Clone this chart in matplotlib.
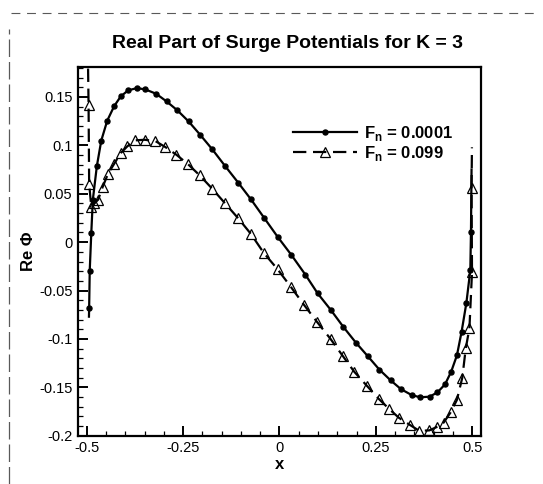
import numpy as np
import matplotlib.pyplot as plt
from matplotlib.lines import Line2D
from matplotlib.ticker import MultipleLocator, FixedLocator

plt.rcParams['font.family'] = ['Liberation Sans', 'DejaVu Sans']
plt.rcParams['mathtext.fontset'] = 'custom'
plt.rcParams['mathtext.rm'] = 'Liberation Sans:bold'
plt.rcParams['mathtext.bf'] = 'Liberation Sans:bold'

# Re(phi) along the body, Fn = 0.0001 (first/last points are line ends only)
x_slow = [-0.4945, -0.494, -0.4925, -0.4885, -0.4845, -0.474, -0.4625, -0.447,
          -0.429, -0.412, -0.393, -0.370, -0.348, -0.320, -0.293, -0.265,
          -0.236, -0.206, -0.175, -0.141, -0.107, -0.074, -0.040, -0.005,
          0.031, 0.067, 0.099, 0.1335, 0.166, 0.198, 0.2295, 0.259, 0.2885,
          0.315, 0.343, 0.365, 0.3896, 0.410, 0.4296, 0.4455, 0.4605, 0.4725,
          0.485, 0.4953, 0.497, 0.4985]
re_slow = [-0.077, -0.068, -0.0295, 0.009, 0.0435, 0.0786, 0.105, 0.1256,
           0.1406, 0.1506, 0.1568, 0.1592, 0.1578, 0.1533, 0.1454, 0.1362,
           0.1248, 0.111, 0.0962, 0.0786, 0.0614, 0.0442, 0.0252, 0.0056,
           -0.0133, -0.0335, -0.0529, -0.0702, -0.0877, -0.1037, -0.118,
           -0.1316, -0.1428, -0.1518, -0.158, -0.1603, -0.1597, -0.1552,
           -0.147, -0.134, -0.117, -0.093, -0.063, -0.029, 0.0107, 0.075]

# Re(phi) along the body, Fn = 0.099 (end points are line ends only)
x_fast = [-0.4975, -0.4955, -0.494, -0.4885, -0.4805, -0.4705, -0.459, -0.445,
          -0.429, -0.412, -0.395, -0.374, -0.350, -0.322, -0.296, -0.2675,
          -0.237, -0.207, -0.175, -0.141, -0.107, -0.074, -0.041, -0.005,
          0.030, 0.064, 0.097, 0.1325, 0.165, 0.194, 0.227, 0.257, 0.285,
          0.310, 0.339, 0.363, 0.389, 0.410, 0.426, 0.444, 0.4605, 0.4745,
          0.4835, 0.493, 0.4997, 0.4985, 0.4995]
re_fast = [0.20, 0.1413, 0.0603, 0.0366, 0.040, 0.044, 0.057, 0.0707, 0.081,
           0.092, 0.099, 0.1052, 0.1058, 0.1044, 0.0982, 0.0903, 0.0804, 0.069,
           0.0554, 0.040, 0.0246, 0.0084, -0.011, -0.028, -0.0465, -0.065,
           -0.0822, -0.100, -0.118, -0.1339, -0.1485, -0.1617, -0.1725,
           -0.1815, -0.189, -0.195, -0.1945, -0.1907, -0.1865, -0.176, -0.163,
           -0.140, -0.1097, -0.089, -0.031, 0.056, 0.098]

labels = [r'F$_{\mathbf{n}}$ = 0.0001', r'F$_{\mathbf{n}}$ = 0.099']
x_ticks = [-0.5, -0.25, 0, 0.25, 0.5]
x_ticklabels = ['-0.5', '-0.25', '0', '0.25', '0.5']
y_ticks = [-0.2, -0.15, -0.1, -0.05, 0, 0.05, 0.1, 0.15]
y_ticklabels = ['-0.2', '-0.15', '-0.1', '-0.05', '0', '0.05', '0.1', '0.15']

fig = plt.figure(figsize=(5.43, 4.84), dpi=100)
ax = fig.add_axes([0.1436, 0.0998, 0.7422, 0.7618])

ax.plot(x_slow, re_slow, color='black', lw=1.6, marker='o', ms=3.6,
        markevery=list(range(1, len(x_slow) - 1)), label=labels[0])
ax.plot(x_fast, re_fast, color='black', lw=1.6, ls=(0, (6, 3)), marker='^',
        ms=7.8, mfc='none', mec='black', mew=0.9,
        markevery=list(range(1, len(x_fast) - 1)), label=labels[1])

ax.set_xlim(-0.523, 0.523)
ax.set_ylim(-0.2, 0.181)
ax.xaxis.set_major_locator(FixedLocator(x_ticks))
ax.set_xticklabels(x_ticklabels)
ax.yaxis.set_major_locator(FixedLocator(y_ticks))
ax.set_yticklabels(y_ticklabels)
ax.xaxis.set_minor_locator(MultipleLocator(0.05))
ax.yaxis.set_minor_locator(MultipleLocator(0.01))
ax.tick_params(which='both', direction='in', top=False, right=False,
               labelsize=10.5, pad=4)
ax.tick_params(which='major', length=7, width=1.4)
ax.tick_params(which='minor', length=3.5, width=0.9)
for side in ax.spines.values():
    side.set_linewidth(1.6)

ax.set_xlabel('x', fontsize=12, fontweight='bold', labelpad=1)
ax.set_ylabel('Re \u03a6', fontsize=12, fontweight='bold', labelpad=2)
ax.set_title('Real Part of Surge Potentials for K = 3', fontsize=14,
             fontweight='bold', pad=14, x=0.52)

ax.legend(loc='upper left', bbox_to_anchor=(0.533, 0.845), frameon=False,
          borderaxespad=0, borderpad=0, handlelength=3.85, handletextpad=0.4,
          labelspacing=0.05, prop={'weight': 'bold', 'size': 12})

# page border marks
fig.add_artist(Line2D([0.02, 0.99], [0.973, 0.973], color='0.35', lw=0.8,
                      ls=(0, (8, 6))))
fig.add_artist(Line2D([0.017, 0.017], [0.0, 0.94], color='0.35', lw=0.9,
                      ls=(0, (14, 4))))

fig.savefig('out.png', dpi=100)
